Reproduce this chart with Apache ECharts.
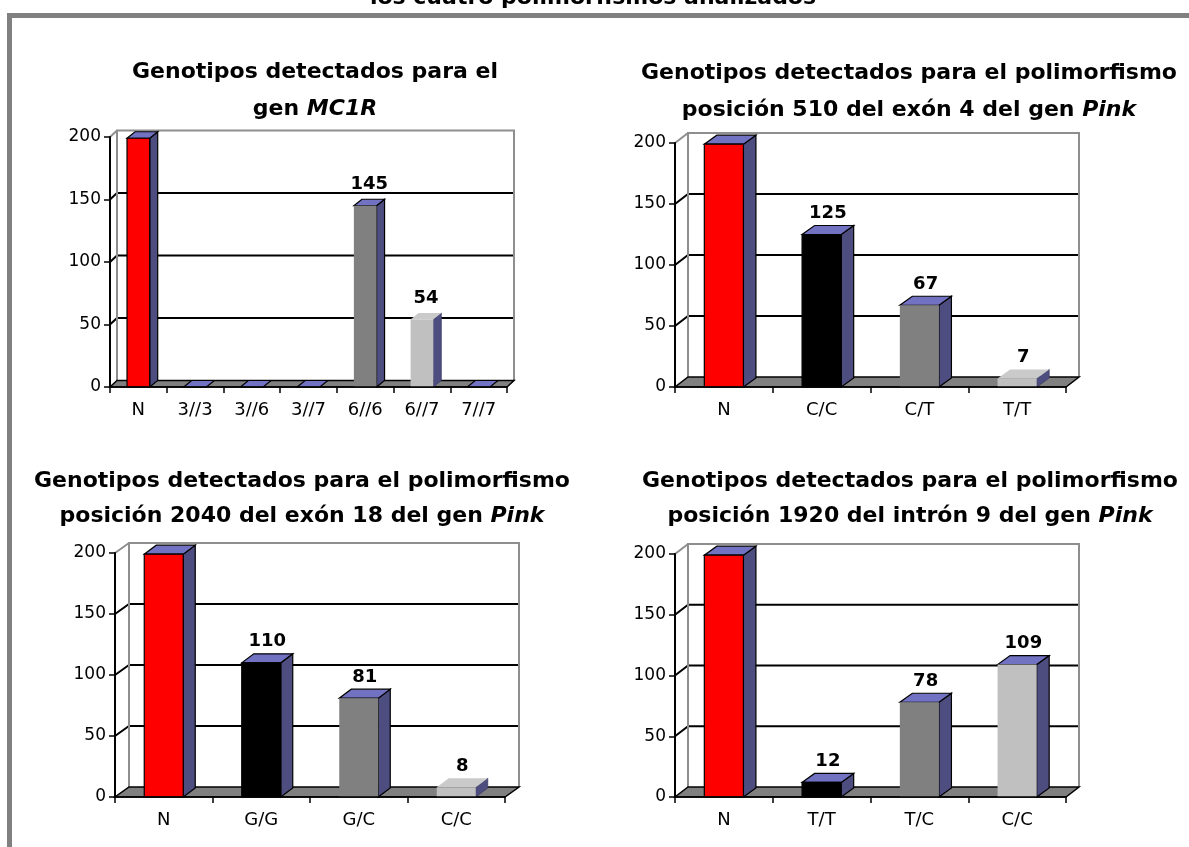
<!DOCTYPE html>
<html>
<head>
<meta charset="utf-8">
<script src="https://cdn.jsdelivr.net/npm/echarts@6/dist/echarts.min.js"></script>
<style>
  html, body { margin: 0; padding: 0; background: #ffffff; }
  #chart { width: 1189px; height: 847px; }
</style>
</head>
<body>
<div id="chart"></div>
<script>
// Genotype counts for each marker (N = total animals typed)
const mc1rCategories = ['N', '3//3', '3//6', '3//7', '6//6', '6//7', '7//7'];
const mc1rCounts = [199, 0, 0, 0, 145, 54, 0];

const exon4Categories = ['N', 'C/C', 'C/T', 'T/T'];
const exon4Counts = [199, 125, 67, 7];

const exon18Categories = ['N', 'G/G', 'G/C', 'C/C'];
const exon18Counts = [199, 110, 81, 8];

const intron9Categories = ['N', 'T/T', 'T/C', 'C/C'];
const intron9Counts = [199, 12, 78, 109];

const yTicks = [0, 50, 100, 150, 200];

const headerText = 'los cuatro polimorfismos analizados';
const titleMC1R = 'Genotipos detectados para el\ngen {i|MC1R}';
const titleExon4 = 'Genotipos detectados para el polimorfismo\nposición 510 del exón 4 del gen {i|Pink}';
const titleExon18 = 'Genotipos detectados para el polimorfismo\nposición 2040 del exón 18 del gen {i|Pink}';
const titleIntron9 = 'Genotipos detectados para el polimorfismo\nposición 1920 del intrón 9 del gen {i|Pink}';

// Colours
const RED = '#ff0000', BLACK = '#000000', GRAY = '#808080', LIGHT = '#c0c0c0';
const TOP_FACE = '#7272c2', SIDE_FACE = '#4d4d80', PALE_TOP = '#cacaca';
const WALL_EDGE = '#8e8e8e', FLOOR = '#808080';
const TITLE_FONT = '"DejaVu Sans", sans-serif';
const AXIS_FONT = '"DejaVu Sans", sans-serif';

// Panel layout: plotting box, projection depth of wall/floor and of the bars
const panels = [
  { cats: mc1rCategories, vals: mc1rCounts, title: titleMC1R,
    colors: [RED, BLACK, GRAY, LIGHT, GRAY, LIGHT, BLACK], paleTop: [5],
    grid: { left: 110, top: 137, width: 397, height: 250 },
    wallDepth: [7, -6.5], barDepth: [8, -6.5],
    titleX: 315, titleY: 54, lineH: 37 },
  { cats: exon4Categories, vals: exon4Counts, title: titleExon4,
    colors: [RED, BLACK, GRAY, LIGHT], paleTop: [3],
    grid: { left: 675, top: 143, width: 391, height: 244 },
    wallDepth: [13, -10], barDepth: [12.5, -9],
    titleX: 909, titleY: 55, lineH: 37 },
  { cats: exon18Categories, vals: exon18Counts, title: titleExon18,
    colors: [RED, BLACK, GRAY, LIGHT], paleTop: [3],
    grid: { left: 115, top: 553, width: 390, height: 244 },
    wallDepth: [14, -10], barDepth: [12, -9],
    titleX: 302, titleY: 464, lineH: 35 },
  { cats: intron9Categories, vals: intron9Counts, title: titleIntron9,
    colors: [RED, BLACK, GRAY, LIGHT], paleTop: [],
    grid: { left: 675, top: 554, width: 391, height: 243 },
    wallDepth: [13, -10], barDepth: [12.5, -9],
    titleX: 910, titleY: 464, lineH: 35 }
];

// Back wall, gridlines and floor of a pseudo-3D plot area
function wallRenderer(p) {
  return function (params, api) {
    const cs = params.coordSys;
    const dx = p.wallDepth[0], dy = p.wallDepth[1];
    const x0 = cs.x, x1 = cs.x + cs.width;
    const yOf = v => api.coord([0, v])[1];
    const y0 = yOf(0), yMax = yOf(yTicks[yTicks.length - 1]);
    const kids = [];
    // wall face
    kids.push({ type: 'rect', shape: { x: x0 + dx, y: yMax + dy, width: x1 - x0, height: y0 - yMax },
      style: { fill: '#ffffff', stroke: null } });
    // gridlines on the wall with their slanted lead-ins from the front axis
    yTicks.forEach(v => {
      if (v <= 0 || v >= yTicks[yTicks.length - 1]) return;
      const y = yOf(v);
      kids.push({ type: 'polyline', shape: { points: [[x0, y], [x0 + dx, y + dy], [x1 + dx, y + dy]] },
        style: { stroke: '#000', lineWidth: 2, fill: null } });
    });
    // wall outline
    kids.push({ type: 'polyline', shape: { points: [[x0 + dx, y0 + dy], [x0 + dx, yMax + dy], [x1 + dx, yMax + dy], [x1 + dx, y0 + dy]] },
      style: { stroke: WALL_EDGE, lineWidth: 2, fill: null } });
    kids.push({ type: 'line', shape: { x1: x0, y1: yMax, x2: x0 + dx, y2: yMax + dy },
      style: { stroke: WALL_EDGE, lineWidth: 2 } });
    // floor
    kids.push({ type: 'polygon', shape: { points: [[x0, y0], [x1, y0], [x1 + dx, y0 + dy], [x0 + dx, y0 + dy]] },
      style: { fill: FLOOR, stroke: '#000', lineWidth: 1.5 } });
    return { type: 'group', children: kids };
  };
}

// Column drawn as front face + top face + side face
function barRenderer(p) {
  return function (params, api) {
    const i = params.dataIndex;
    const v = api.value(1);
    const base = api.coord([i, 0]);
    const head = api.coord([i, v]);
    const w = api.size([1, 0])[0] * 0.4;
    const xl = base[0] - w / 2, xr = base[0] + w / 2;
    const yb = base[1], yt = head[1];
    const dx = p.barDepth[0], dy = p.barDepth[1];
    const color = p.colors[i];
    const pale = p.paleTop.indexOf(i) >= 0;
    const outlined = (color === RED || color === BLACK);
    const kids = [];
    if (v > 0) {
      kids.push({ type: 'polygon', shape: { points: [[xr, yt], [xr + dx, yt + dy], [xr + dx, yb + dy], [xr, yb]] },
        style: { fill: SIDE_FACE, stroke: pale ? '#3c3c66' : '#000', lineWidth: pale ? 0.8 : 1.2 } });
    }
    kids.push({ type: 'polygon', shape: { points: [[xl, yt], [xr, yt], [xr + dx, yt + dy], [xl + dx, yt + dy]] },
      style: { fill: pale ? PALE_TOP : TOP_FACE, stroke: pale ? null : '#000', lineWidth: 1.2 } });
    if (v > 0) {
      kids.push({ type: 'rect', shape: { x: xl, y: yt, width: w, height: yb - yt },
        style: { fill: color, stroke: outlined ? '#000' : null, lineWidth: 1.2 } });
    }
    if (i > 0 && v > 0) {
      kids.push({ type: 'text', style: {
        text: String(v), x: base[0] + dx / 2, y: yt - 21,
        align: 'center', verticalAlign: 'middle', textAlign: 'center', textVerticalAlign: 'middle',
        font: 'bold 18px ' + TITLE_FONT, fill: '#000' } });
    }
    return { type: 'group', children: kids };
  };
}

const grids = [], xAxes = [], yAxes = [], series = [], graphics = [];

panels.forEach((p, k) => {
  grids.push(Object.assign({ outerBoundsMode: 'none', containLabel: false }, p.grid));
  xAxes.push({
    type: 'category', gridIndex: k, data: p.cats, boundaryGap: true, z: 6,
    axisLine: { show: true, lineStyle: { color: '#000', width: 1.5 } },
    axisTick: { show: true, length: 6, lineStyle: { color: '#000', width: 1.5 } },
    axisLabel: { color: '#000', fontSize: 18, fontFamily: AXIS_FONT, margin: 14, interval: 0 },
    splitLine: { show: false }
  });
  yAxes.push({
    type: 'value', gridIndex: k, min: 0, max: 200, interval: 50, z: 6,
    axisLine: { show: true, lineStyle: { color: '#000', width: 2 } },
    axisTick: { show: true, length: 6, lineStyle: { color: '#000', width: 1.5 } },
    axisLabel: { color: '#000', fontSize: 17, fontFamily: AXIS_FONT, margin: 9,
      formatter: v => (yTicks.indexOf(v) >= 0 ? String(v) : '') },
    splitLine: { show: false }
  });
  series.push({
    type: 'custom', xAxisIndex: k, yAxisIndex: k, z: 1, clip: false, silent: true,
    renderItem: wallRenderer(p), data: [[0, 0]]
  });
  series.push({
    type: 'custom', xAxisIndex: k, yAxisIndex: k, z: 3, clip: false,
    renderItem: barRenderer(p),
    data: p.vals.map((v, i) => [i, v])
  });
  graphics.push({
    type: 'text', x: p.titleX, y: p.titleY, z: 10,
    style: {
      text: p.title, x: 0, y: 0, align: 'center', verticalAlign: 'top',
      font: 'bold 22px ' + TITLE_FONT, lineHeight: p.lineH, fill: '#000',
      rich: { i: { fontStyle: 'italic', fontWeight: 'bold', fontSize: 22, fontFamily: TITLE_FONT, lineHeight: p.lineH } }
    }
  });
});

// Page frame and the (cropped) heading above it
graphics.push({
  type: 'rect', z: 0, shape: { x: 9.5, y: 15.5, width: 1400, height: 1000 },
  style: { fill: null, stroke: '#808080', lineWidth: 5 }
});
graphics.push({
  type: 'text', x: 593, y: -2, z: 10,
  style: { text: headerText, x: 0, y: 0, align: 'center', verticalAlign: 'middle',
    font: 'bold 22px ' + TITLE_FONT, fill: '#000' }
});

const chart = echarts.init(document.getElementById('chart'), null, { renderer: 'canvas' });
chart.setOption({
  backgroundColor: '#ffffff',
  animation: false,
  grid: grids,
  xAxis: xAxes,
  yAxis: yAxes,
  series: series,
  graphic: graphics
});
</script>
</body>
</html>
